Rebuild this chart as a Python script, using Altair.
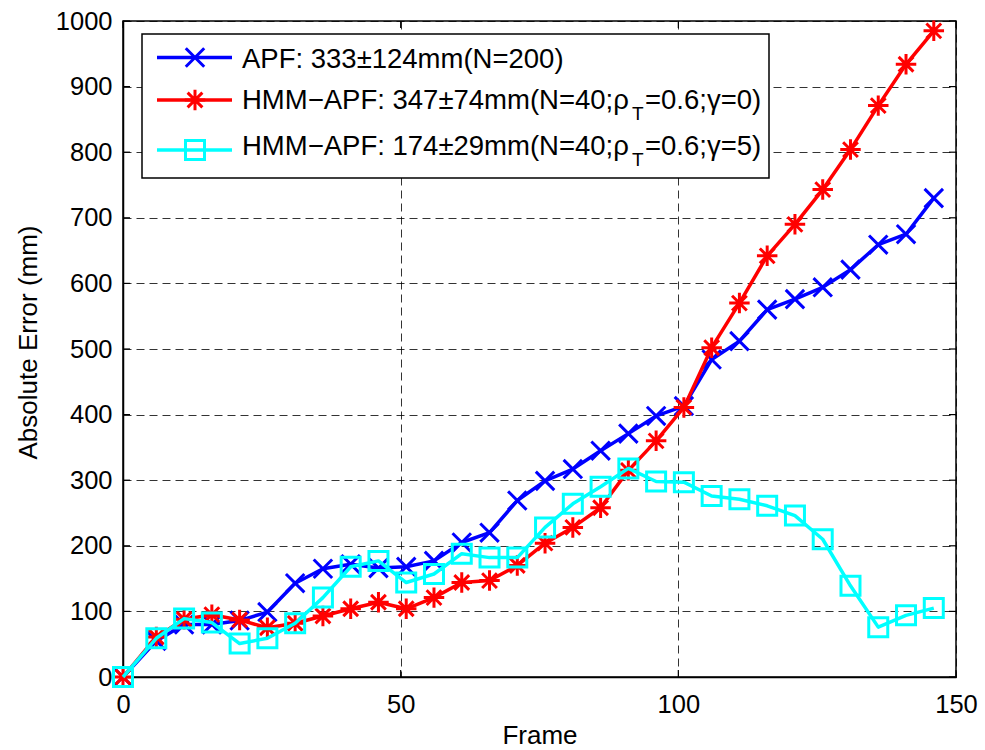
import altair as alt
import pandas as pd

# ---------------- data ----------------
frames = [0, 6, 11, 16, 21, 26, 31, 36, 41, 46, 51, 56, 61, 66, 71,
          76, 81, 86, 91, 96, 101, 106, 111, 116, 121, 126, 131, 136, 141, 146]
apf = [0, 55, 80, 80, 86, 99, 143, 165, 172, 166, 168, 177, 205, 220, 269,
       299, 317, 345, 371, 398, 413, 484, 512, 560, 576, 594, 621, 659, 675, 730]
hmm_g0 = [0, 61, 88, 95, 87, 75, 82, 93, 104, 114, 104, 121, 144, 147, 170,
          204, 228, 258, 315, 360, 411, 502, 570, 642, 690, 743, 804, 871, 934, 985]
hmm_g5 = [0, 59, 89, 83, 51, 59, 82, 121, 168, 177, 144, 157, 188, 182, 182,
          228, 264, 290, 318, 298, 297, 276, 271, 261, 246, 210, 139, 76, 94, 105]

series_names = ["APF", "HMM-APF g0", "HMM-APF g5"]
series_values = [apf, hmm_g0, hmm_g5]
series_colors = ["#0000ff", "#ff0000", "#00ffff"]

x_ticks = [0, 50, 100, 150]
y_ticks = [0, 100, 200, 300, 400, 500, 600, 700, 800, 900, 1000]

legend_main = ["APF: 333\u00b1124mm(N=200)",
               "HMM\u2212APF: 347\u00b174mm(N=40;\u03c1",
               "HMM\u2212APF: 174\u00b129mm(N=40;\u03c1"]
legend_sub = ["", "T", "T"]
legend_tail = ["", "=0.6;\u03b3=0)", "=0.6;\u03b3=5)"]

# ---------------- styling ----------------
FONT = "Liberation Sans"
W, H = 833, 656
X_PATH = "M-1,-1L1,1M-1,1L1,-1"
AST_PATH = "M0,-1L0,1M-1,0L1,0M-0.72,-0.72L0.72,0.72M-0.72,0.72L0.72,-0.72"
shapes = [X_PATH, AST_PATH, "square"]
sizes = [340, 420, 361]
LW = 3.5
LEG_FS = 27.5

xscale = alt.Scale(domain=[0, 150], nice=False, zero=False)
yscale = alt.Scale(domain=[0, 1000], nice=False, zero=False)

x_axis = alt.Axis(values=x_ticks, title="Frame", grid=True, ticks=False, format="d",
                  labelPadding=35, labelBaseline="alphabetic",
                  titleX=W / 2, titleY=66, titleBaseline="alphabetic",
                  titleAlign="center")
y_axis = alt.Axis(values=y_ticks, title="Absolute Error (mm)", grid=True, ticks=False,
                  format="d", labelPadding=11, titleX=-87, titleY=321, titleAngle=-90,
                  titleBaseline="alphabetic", titleAlign="center")

layers = []

# tick marks pointing inward (MATLAB style)
ydf = pd.DataFrame({"v": y_ticks})
xdf = pd.DataFrame({"v": x_ticks})
layers.append(alt.Chart(ydf).mark_rule(color="black", strokeWidth=1.2).encode(
    y=alt.Y("v:Q", scale=yscale, axis=y_axis), x=alt.value(0), x2=alt.value(7)))
layers.append(alt.Chart(ydf).mark_rule(color="black", strokeWidth=1.2).encode(
    y=alt.Y("v:Q", scale=yscale), x=alt.value(W - 7), x2=alt.value(W)))
layers.append(alt.Chart(xdf).mark_rule(color="black", strokeWidth=1.2).encode(
    x=alt.X("v:Q", scale=xscale, axis=x_axis), y=alt.value(H - 7), y2=alt.value(H)))
layers.append(alt.Chart(xdf).mark_rule(color="black", strokeWidth=1.2).encode(
    x=alt.X("v:Q", scale=xscale), y=alt.value(0), y2=alt.value(7)))

for name, vals, col, shp, sz in zip(series_names, series_values, series_colors, shapes, sizes):
    df = pd.DataFrame({"frame": frames, "err": vals})
    enc = dict(x=alt.X("frame:Q", scale=xscale),
               y=alt.Y("err:Q", scale=yscale))
    layers.append(alt.Chart(df).mark_line(color=col, strokeWidth=LW, strokeJoin="round").encode(**enc))
    layers.append(alt.Chart(df).mark_point(shape=shp, size=sz, filled=False, color=col,
                                           strokeWidth=3, opacity=1).encode(**enc))

# ---------------- manual legend ----------------
one = pd.DataFrame({"a": [0]})
layers.append(alt.Chart(one).mark_rect(fill="white", stroke="black", strokeWidth=1.5).encode(
    x=alt.value(19), x2=alt.value(646), y=alt.value(13), y2=alt.value(157)))

row_line_y = [36.5, 79, 129]
row_base_y = [46.5, 87.5, 134]
for i in range(3):
    col = series_colors[i]
    layers.append(alt.Chart(one).mark_rule(color=col, strokeWidth=LW).encode(
        x=alt.value(34), x2=alt.value(109), y=alt.value(row_line_y[i])))
    layers.append(alt.Chart(one).mark_point(shape=shapes[i], size=sizes[i], filled=False,
                                            color=col, strokeWidth=3, opacity=1).encode(
        x=alt.value(72), y=alt.value(row_line_y[i])))
    tdf = pd.DataFrame({"t": [legend_main[i]]})
    layers.append(alt.Chart(tdf).mark_text(align="left", baseline="alphabetic", font=FONT,
                                           fontSize=LEG_FS, color="black").encode(
        text="t:N", x=alt.value(119), y=alt.value(row_base_y[i])))
    if legend_sub[i]:
        sdf = pd.DataFrame({"t": [legend_sub[i]]})
        layers.append(alt.Chart(sdf).mark_text(align="left", baseline="alphabetic", font=FONT,
                                               fontSize=19, color="black").encode(
            text="t:N", x=alt.value(509), y=alt.value(row_base_y[i] + 11)))
        edf = pd.DataFrame({"t": [legend_tail[i]]})
        layers.append(alt.Chart(edf).mark_text(align="left", baseline="alphabetic", font=FONT,
                                               fontSize=LEG_FS, color="black").encode(
            text="t:N", x=alt.value(522), y=alt.value(row_base_y[i])))

chart = alt.layer(*layers).properties(
    width=W, height=H,
    autosize=alt.AutoSizeParams(type="none"),
    padding={"left": 123, "top": 21, "right": 29, "bottom": 73},
    background="white",
).configure_view(
    stroke="black", strokeWidth=1.5
).configure_axis(
    labelFont=FONT, labelFontSize=25.5, labelColor="black",
    titleFont=FONT, titleFontSize=26, titleFontWeight="normal", titleColor="black",
    domainColor="black", domainWidth=1.5,
    gridColor="black", gridDash=[8, 5], gridWidth=1, gridOpacity=0.8,
    labelFlush=False, labelOverlap=False,
)

chart.save("out.html", embed_options={"renderer": "svg", "actions": False})
